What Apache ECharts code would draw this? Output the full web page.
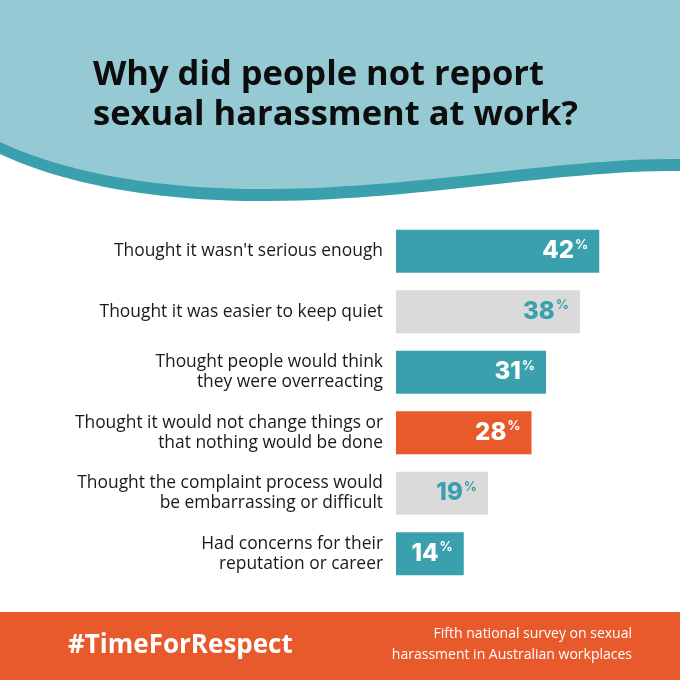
<!DOCTYPE html>
<html>
<head>
<meta charset="utf-8">
<script src="https://cdn.jsdelivr.net/npm/echarts@6/dist/echarts.min.js"></script>
<style>
    html, body { margin: 0; padding: 0; background: #fff; }
    #chart { width: 680px; height: 680px; }
</style>
</head>
<body>
<div id="chart"></div>
<script>
    // reasons (top to bottom) and share of people, in %
    var reasons = [
        'Thought it wasn\'t serious enough',
        'Thought it was easier to keep quiet',
        'Thought people would think\nthey were overreacting',
        'Thought it would not change things or\nthat nothing would be done',
        'Thought the complaint process would\nbe embarrassing or difficult',
        'Had concerns for their\nreputation or career'
    ];
    var shares = [42, 38, 31, 28, 19, 14];

    // bar fill and label colour per row
    var barColors = ['#3aa0ad', '#dadada', '#3aa0ad', '#e85a2b', '#dadada', '#3aa0ad'];
    var labelColors = ['#fff', '#3aa0ad', '#fff', '#fff', '#3aa0ad', '#fff'];

    // header wave outline: sample two cubic curves into polygon points
    function cubic(p0, p1, p2, p3, n) {
        var pts = [];
        for (var i = 0; i <= n; i++) {
            var t = i / n, u = 1 - t;
            pts.push([
                u*u*u*p0[0] + 3*u*u*t*p1[0] + 3*u*t*t*p2[0] + t*t*t*p3[0],
                u*u*u*p0[1] + 3*u*u*t*p1[1] + 3*u*t*t*p2[1] + t*t*t*p3[1]
            ]);
        }
        return pts;
    }
    function wavePoints(dy) {
        var pts = [[0, 0], [680, 0]];
        pts = pts.concat(cubic([680, 159 + dy], [560, 158 + dy], [420, 188 + dy], [270, 189 + dy], 30));
        pts = pts.concat(cubic([270, 189 + dy], [150, 190 + dy], [60, 170 + dy], [0, 142 + dy], 30));
        return pts;
    }

    var chart = echarts.init(document.getElementById('chart'));
    var option = {
        backgroundColor: '#fff',
        animation: false,
        title: {
            text: 'Why did people not report\nsexual harassment at work?',
            left: 88,
            top: 50,
            textStyle: {
                fontFamily: 'Open Sans',
                fontWeight: 'bold',
                fontSize: 34.5,
                lineHeight: 40,
                color: '#0d0d0d'
            }
        },
        graphic: [
            {type: 'polygon', z: -2, shape: {points: wavePoints(12)}, style: {fill: '#3aa0ad'}},
            {type: 'polygon', z: -1, shape: {points: wavePoints(0)}, style: {fill: '#95cad4'}},
            {type: 'rect', shape: {x: 0, y: 612, width: 680, height: 68}, style: {fill: '#e85a2b'}},
            {
                type: 'text', left: 68, top: 633,
                style: {
                    text: '#TimeForRespect',
                    font: 'bold 26px "Open Sans"',
                    fill: '#fff'
                }
            },
            {
                type: 'text', right: 48, top: 627,
                style: {
                    text: 'Fifth national survey on sexual',
                    font: '14px "Open Sans"',
                    fill: '#fff'
                }
            },
            {
                type: 'text', right: 48, top: 648,
                style: {
                    text: 'harassment in Australian workplaces',
                    font: '14px "Open Sans"',
                    fill: '#fff'
                }
            }
        ],
        grid: {
            left: 396,
            right: 42,
            top: 221,
            height: 363
        },
        xAxis: {
            type: 'value',
            min: 0,
            max: 50,
            show: false
        },
        yAxis: {
            type: 'category',
            inverse: true,
            data: reasons,
            axisLine: {show: false},
            axisTick: {show: false},
            axisLabel: {
                margin: 13,
                fontFamily: 'Open Sans',
                fontSize: 17.4,
                lineHeight: 20,
                padding: [7, 0, 0, 0],
                color: '#1a1a1a',
                align: 'right'
            }
        },
        series: [
            {
                type: 'bar',
                barWidth: 43,
                data: shares.map(function (v, i) {
                    return {
                        value: v,
                        itemStyle: {color: barColors[i]},
                        label: {color: labelColors[i]}
                    };
                }),
                label: {
                    show: true,
                    position: 'insideRight',
                    distance: 11,
                    formatter: '{v|{c}}{p|%}',
                    rich: {
                        v: {
                            fontFamily: 'Inter',
                            fontWeight: 800,
                            fontSize: 24,
                            lineHeight: 26
                        },
                        p: {
                            fontFamily: 'Inter',
                            fontWeight: 700,
                            fontSize: 13,
                            lineHeight: 26,
                            verticalAlign: 'top',
                            padding: [0, 0, 10, 1]
                        }
                    }
                }
            }
        ]
    };
    chart.setOption(option);
</script>
</body>
</html>
